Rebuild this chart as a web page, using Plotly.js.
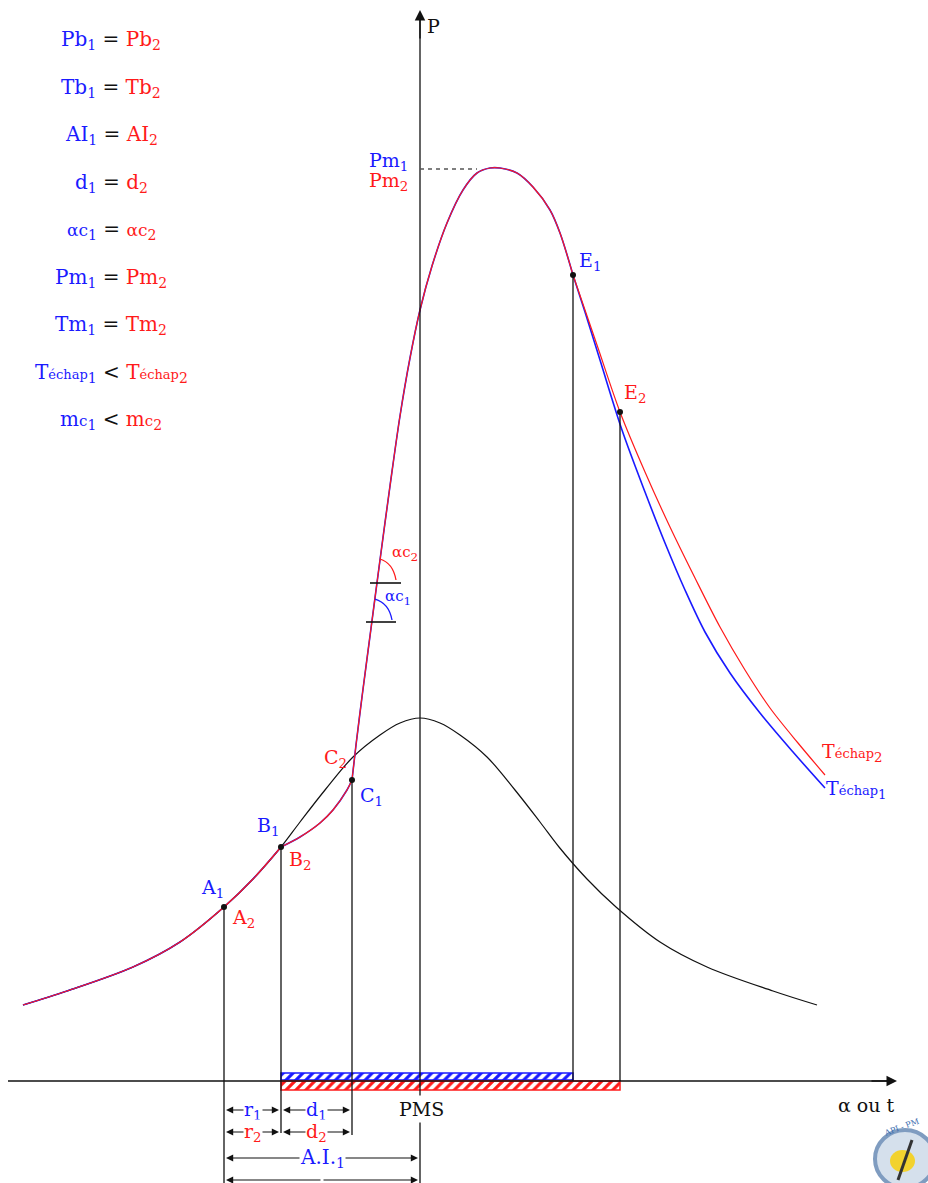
<!DOCTYPE html>
<html>
<head>
<meta charset="utf-8">
<script src="https://cdn.plot.ly/plotly-3.0.1.min.js"></script>
<style>html,body{margin:0;padding:0;background:#fff;}#chart{width:928px;height:1183px;}</style>
</head>
<body>
<div id="chart"></div>
<script>
// Coordinates: x = crank angle (diagram units), y = diagram units measured downward (reversed axis)
// Motoring (compression/expansion without combustion) curve
const motorX = [23, 67, 133, 180, 224, 253, 281, 300, 325, 353, 380, 400, 420, 440, 460, 487, 515, 540, 559, 587, 616, 660, 707, 773, 817];
const motorY = [1005, 991, 967, 942, 907, 879, 847, 822, 790, 757, 735, 723, 718, 723, 735, 757, 790, 822, 847, 879, 907, 942, 967, 991, 1005];
// Combustion curves – shared parts (1 and 2 identical)
const compX = [23, 67, 133, 180, 224, 253, 281];
const compY = [1005, 991, 967, 942, 907, 879, 847];
const delayX = [281, 300, 320, 333, 347, 352];
const delayY = [847, 837, 823, 810, 790, 780];
const combX = [352, 356, 362, 370, 380, 390, 400, 410, 420, 432, 447, 463, 477, 490, 500, 517, 533, 550, 560, 573];
const combY = [780, 745, 697, 636, 560, 486, 416, 358, 310, 266, 223, 190, 173, 168, 168, 173, 187, 210, 233, 275];
// Expansion tails
const tail1X = [573, 585, 600, 622, 645, 665, 685, 705, 730, 760, 793, 825];
const tail1Y = [275, 312, 360, 430, 492, 543, 590, 632, 673, 713, 752, 788];
const tail2X = [573, 597, 620, 645, 670, 695, 720, 745, 770, 798, 825];
const tail2Y = [275, 345, 412, 472, 527, 578, 627, 670, 708, 743, 775];
// Key points
const ptNames = ['A', 'B', 'C1', 'E1', 'E2'];
const ptX = [224, 281, 352, 573, 620];
const ptY = [907, 847, 780, 275, 412];
// Reference levels
const baseY = 1081;     // alpha axis
const pmsX = 420;       // PMS / P axis
const pmY = 169;        // Pm level
// Legend equalities
const legendLines = [
  ["Pb<sub>1</sub>", "=", "Pb<sub>2</sub>"],
  ["Tb<sub>1</sub>", "=", "Tb<sub>2</sub>"],
  ["AI<sub>1</sub>", "=", "AI<sub>2</sub>"],
  ["d<sub>1</sub>", "=", "d<sub>2</sub>"],
  ["<span style='font-size:17px'>αc</span><sub>1</sub>", "=", "<span style='font-size:17px'>αc</span><sub>2</sub>"],
  ["Pm<sub>1</sub>", "=", "Pm<sub>2</sub>"],
  ["Tm<sub>1</sub>", "=", "Tm<sub>2</sub>"],
  ["T<span style='font-size:13px'>échap</span><sub>1</sub>", "<", "T<span style='font-size:13px'>échap</span><sub>2</sub>"],
  ["m<span style='font-size:15px'>c</span><sub>1</sub>", "<", "m<span style='font-size:15px'>c</span><sub>2</sub>"]
];
const legendY = [40, 88, 135, 183, 230, 278, 325, 373, 420];

const BLUE = '#1a1aff', RED = '#ff1a1a', BLK = '#111';
const FONT = 'DejaVu Serif, Liberation Serif, serif';

const traces = [];
traces.push({x: motorX, y: motorY, mode: 'lines', line: {color: BLK, width: 1.2, shape: 'spline', smoothing: 1}, hoverinfo: 'skip'});
[[compX, compY], [delayX, delayY], [combX, combY], [tail1X, tail1Y]].forEach(([x, y]) =>
  traces.push({x, y, mode: 'lines', line: {color: BLUE, width: 1.6, shape: 'spline', smoothing: 0.9}, hoverinfo: 'skip'}));
[[compX, compY], [delayX, delayY], [combX, combY], [tail2X, tail2Y]].forEach(([x, y]) =>
  traces.push({x, y, mode: 'lines', line: {color: RED, width: 1.2, shape: 'spline', smoothing: 0.9}, hoverinfo: 'skip'}));
// hatched bars (durations)
traces.push({type: 'bar', orientation: 'h', y: [baseY - 4.5], x: [ptX[3] - ptX[1]], base: [ptX[1]], width: [7],
  marker: {color: 'white', line: {color: BLUE, width: 1.5}, pattern: {shape: '/', fgcolor: BLUE, bgcolor: 'white', size: 7, solidity: 0.45}}, hoverinfo: 'skip'});
traces.push({type: 'bar', orientation: 'h', y: [baseY + 4.5], x: [ptX[4] - ptX[1]], base: [ptX[1]], width: [9],
  marker: {color: 'white', line: {color: RED, width: 1.5}, pattern: {shape: '/', fgcolor: RED, bgcolor: 'white', size: 7, solidity: 0.45}}, hoverinfo: 'skip'});
traces.push({x: ptX, y: ptY, mode: 'markers', marker: {color: BLK, size: 6}, text: ptNames, hoverinfo: 'text'});

const shapes = [];
const L = (x0, y0, x1, y1, extra) => Object.assign({type: 'line', x0, y0, x1, y1, line: {color: BLK, width: 1.3}}, extra || {});
// axes
shapes.push(L(8, baseY, 890, baseY));
shapes.push(L(pmsX, 1183, pmsX, 18));
// verticals
shapes.push(L(ptX[0], ptY[0], ptX[0], 1183));
shapes.push(L(ptX[1], ptY[1], ptX[1], 1133));
shapes.push(L(ptX[2], ptY[2], ptX[2], 1135));
shapes.push(L(ptX[3], ptY[3], ptX[3], baseY));
shapes.push(L(ptX[4], ptY[4], ptX[4], baseY));
// Pm dashed
shapes.push(L(pmsX, pmY, 477, pmY, {line: {color: '#555', width: 1.5, dash: '4px,4px'}}));
// angle marks
shapes.push(L(370, 583, 401, 583, {line: {color: BLK, width: 1.6}}));
shapes.push(L(366, 622, 396, 622, {line: {color: BLK, width: 1.6}}));
shapes.push({type: 'path', path: 'M 380 559 Q 393 563 396 580', line: {color: RED, width: 1.3}});
shapes.push({type: 'path', path: 'M 375 599 Q 389 603 392 620', line: {color: BLUE, width: 1.3}});
// logo (approximation)
shapes.push({type: 'circle', x0: 875, y0: 1130, x1: 935, y1: 1188, fillcolor: '#d5e0ec', line: {color: '#7f9cc0', width: 4}});
shapes.push({type: 'circle', x0: 890, y0: 1150, x1: 915, y1: 1172, fillcolor: '#f2d22e', line: {width: 0}});
shapes.push(L(912, 1140, 898, 1180, {line: {color: '#333', width: 3}}));

const ann = [];
const arrowOpts = {axref: 'x', ayref: 'y', xref: 'x', yref: 'y', text: '', showarrow: true, arrowhead: 2, arrowcolor: BLK};
const T = (x, y, text, color, size, extra) => ann.push(Object.assign({x, y, xref: 'x', yref: 'y', text, showarrow: false, font: {family: FONT, size: size || 19, color}}, extra || {}));
// axis arrows
ann.push(Object.assign({x: 897, y: baseY, ax: 870, ay: baseY, arrowsize: 1.5, arrowwidth: 1.4}, arrowOpts));
ann.push(Object.assign({x: pmsX, y: 10, ax: pmsX, ay: 40, arrowsize: 1.5, arrowwidth: 1.4}, arrowOpts));
// dimension arrows
[[1110, ptX[0], ptX[1]], [1110, ptX[1], ptX[2]], [1132, ptX[0], ptX[1]], [1132, ptX[1], ptX[2]], [1158, ptX[0], pmsX], [1180, ptX[0], pmsX]].forEach(([y, a, b]) => {
  const c = (a + b) / 2;
  ann.push(Object.assign({x: a + 2, y, ax: c, ay: y, arrowsize: 1.2, arrowwidth: 1.2}, arrowOpts));
  ann.push(Object.assign({x: b - 2, y, ax: c, ay: y, arrowsize: 1.2, arrowwidth: 1.2}, arrowOpts));
});
const bg = {bgcolor: 'white', borderpad: 0};
T((ptX[0] + ptX[1]) / 2, 1110, 'r<sub>1</sub>', BLUE, 19, bg);
T((ptX[1] + ptX[2]) / 2, 1110, 'd<sub>1</sub>', BLUE, 19, bg);
T((ptX[0] + ptX[1]) / 2, 1132, 'r<sub>2</sub>', RED, 19, bg);
T((ptX[1] + ptX[2]) / 2, 1132, 'd<sub>2</sub>', RED, 19, bg);
T((ptX[0] + pmsX) / 2, 1158, 'A.I.<sub>1</sub>', BLUE, 20, bg);
T(pmsX + 1, 1109, 'PMS', BLK, 19, {bgcolor: 'white', borderpad: 2});
T(433, 26, 'P', BLK, 19);
T(866, 1105, 'α ou t', BLK, 19);
T(901, 1127, 'API - PM', '#3a6db0', 8, {textangle: -20});
// point labels
T(212, 888, 'A<sub>1</sub>', BLUE); T(243, 918, 'A<sub>2</sub>', RED);
T(268, 826, 'B<sub>1</sub>', BLUE); T(300, 860, 'B<sub>2</sub>', RED);
T(335, 758, 'C<sub>2</sub>', RED); T(371, 796, 'C<sub>1</sub>', BLUE);
T(590, 261, 'E<sub>1</sub>', BLUE); T(635, 393, 'E<sub>2</sub>', RED);
T(388, 161, 'Pm<sub>1</sub>', BLUE); T(388, 181, 'Pm<sub>2</sub>', RED);
T(405, 553, '<span style="font-size:15px">αc</span><sub>2</sub>', RED, 17);
T(398, 597, '<span style="font-size:15px">αc</span><sub>1</sub>', BLUE, 17);
T(852, 752, 'T<span style="font-size:13px">échap</span><sub>2</sub>', RED);
T(856, 789, 'T<span style="font-size:13px">échap</span><sub>1</sub>', BLUE);
// legend of equalities
legendLines.forEach((ln, i) => {
  T(111, legendY[i], `<span style="color:${BLUE}">${ln[0]}</span> ${ln[1]} <span style="color:${RED}">${ln[2]}</span>`, BLK, 20);
});

const layout = {
  width: 928, height: 1183, margin: {l: 0, r: 0, t: 0, b: 0},
  paper_bgcolor: 'white', plot_bgcolor: 'white', showlegend: false, barmode: 'overlay',
  xaxis: {range: [0, 928], visible: false, fixedrange: true},
  yaxis: {range: [1183, 0], visible: false, fixedrange: true},
  shapes, annotations: ann, font: {family: FONT}
};
Plotly.newPlot('chart', traces, layout, {displayModeBar: false, staticPlot: true});
</script>
</body>
</html>
